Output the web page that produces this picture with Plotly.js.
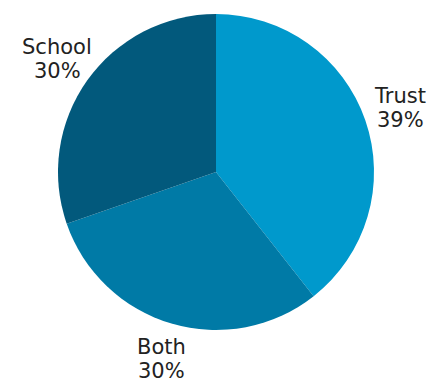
<!DOCTYPE html>
<html><head><meta charset="utf-8">
<script src="https://cdn.plot.ly/plotly-3.0.1.min.js"></script>
<style>html,body{margin:0;padding:0;background:#fff}#chart{width:432px;height:381px}</style>
</head><body><div id="chart"></div>
<script>
const labels = ["Trust", "Both", "School"];
const values = [13, 10, 10];
const colors = ["#0099CC", "#007AA6", "#02597C"];

const W = 432, H = 381;
const domX = [58 / W, 374 / W];
const domY = [1 - 330 / H, 1 - 14 / H];
const radiusPx = (374 - 58) / 2;
const labelDist = radiusPx * 1.235;
const cx = (domX[0] + domX[1]) / 2;
const cy = (domY[0] + domY[1]) / 2;

const total = values.reduce((a, b) => a + b, 0);
const annotations = [];
let cum = 0;
const font = {family: "DejaVu Sans, sans-serif", size: 21, color: "#222222"};
values.forEach((v, i) => {
  const mid = (cum + v / 2) / total * 2 * Math.PI; // clockwise from top
  cum += v;
  const x = cx + labelDist * Math.sin(mid) / W;
  const y = cy + labelDist * Math.cos(mid) / H;
  annotations.push({xref: "paper", yref: "paper", x: x, y: y, xanchor: "center", yanchor: "middle",
    yshift: 12, text: labels[i], showarrow: false, font: font});
  annotations.push({xref: "paper", yref: "paper", x: x, y: y, xanchor: "center", yanchor: "middle",
    yshift: -12, text: Math.round(v / total * 100) + "%", showarrow: false, font: font});
});

Plotly.newPlot("chart", [{
  type: "pie",
  labels: labels,
  values: values,
  sort: false,
  direction: "clockwise",
  rotation: 0,
  marker: {colors: colors, line: {width: 0}},
  textinfo: "none",
  hoverinfo: "none",
  domain: {x: domX, y: domY}
}], {
  width: W, height: H,
  margin: {l: 0, r: 0, t: 0, b: 0},
  showlegend: false,
  paper_bgcolor: "#ffffff",
  annotations: annotations
}, {staticPlot: true, displayModeBar: false});
</script></body></html>
